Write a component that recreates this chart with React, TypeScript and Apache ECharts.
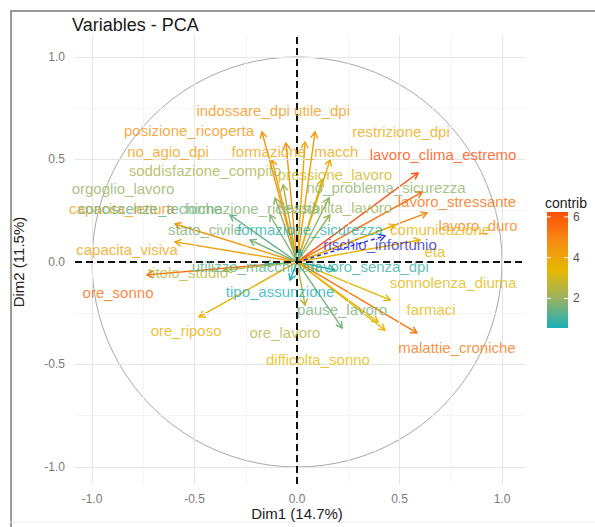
import React, { useEffect, useRef } from "react";
import * as echarts from "echarts";

// ---------- data ----------
const variables = [
  "indossare_dpi", "utile_dpi", "posizione_ricoperta", "restrizione_dpi", "no_agio_dpi",
  "formazione_macch", "lavoro_clima_estremo", "soddisfazione_compito", "pressione_lavoro",
  "no_problema_sicurezza", "orgoglio_lavoro", "capacita_lettura", "conoscenze_tecniche",
  "formazione_ricevuta", "flessibilita_lavoro", "lavoro_stressante", "lavoro_duro",
  "comunicazione", "stato_civile", "formazione_sicurezza", "eta", "capacita_visiva",
  "ore_sonno", "titolo_studio", "utilizzo_macchinari", "lavoro_senza_dpi",
  "sonnolenza_diurna", "tipo_assunzione", "farmaci", "pause_lavoro", "ore_riposo",
  "ore_lavoro", "malattie_croniche", "difficolta_sonno",
];
const dim1 = [
  -0.054, 0.088, -0.171, 0.161, -0.122, 0.039, 0.590, -0.068, 0.122, 0.156, -0.107,
  -0.595, -0.327, -0.132, 0.160, 0.610, 0.634, 0.478, -0.229, 0.015, 0.600, -0.595,
  -0.732, -0.350, -0.156, 0.185, 0.454, -0.034, 0.429, 0.220, -0.478, 0.039, 0.585, 0.395,
];
const dim2 = [
  0.580, 0.634, 0.634, 0.498, 0.498, 0.585, 0.434, 0.376, 0.400, 0.312, 0.312,
  0.185, 0.229, 0.229, 0.229, 0.341, 0.239, 0.180, 0.107, 0.060, 0.107, 0.098,
  -0.063, -0.040, -0.010, -0.039, -0.185, -0.088, -0.332, -0.322, -0.268, -0.210, -0.346, -0.293,
];
const contrib = [
  4.6, 4.3, 4.5, 3.9, 4.2, 4.0, 6.24, 2.3, 3.0, 1.9, 2.0,
  4.4, 1.4, 1.8, 2.1, 5.5, 5.0, 3.6, 1.7, 0.7, 3.6, 4.1,
  5.6, 2.6, 1.3, 0.9, 3.3, 0.55, 3.5, 1.6, 3.7, 2.5, 5.3, 3.4,
];
// where the (repelled) labels sit, in Dim1/Dim2 units
const labelDim1 = [
  -0.263, 0.122, -0.527, 0.507, -0.629, -0.010, 0.712, -0.449, 0.185, 0.434, -0.849,
  -0.854, -0.717, -0.220, 0.185, 0.780, 0.883, 0.698, -0.449, 0.063, 0.673, -0.829,
  -0.873, -0.532, -0.205, 0.356, 0.761, -0.083, 0.654, 0.220, -0.541, -0.059, 0.780, 0.102,
];
const labelDim2 = [
  0.741, 0.741, 0.639, 0.634, 0.537, 0.537, 0.522, 0.444, 0.429, 0.361, 0.356,
  0.259, 0.259, 0.259, 0.268, 0.293, 0.180, 0.156, 0.156, 0.156, 0.049, 0.059,
  -0.151, -0.049, -0.020, -0.020, -0.102, -0.146, -0.234, -0.234, -0.332, -0.346, -0.415, -0.478,
];
// supplementary variable
const supVariables = ["rischio_infortunio"];
const supDim1 = [0.429];
const supDim2 = [0.127];
const supLabelDim1 = [0.405];
const supLabelDim2 = [0.083];

const majorTicks = [-1, -0.5, 0, 0.5, 1];
const minorTicks = [-0.75, -0.25, 0.25, 0.75];
const contribTicks = [2, 4, 6];

// ---------- styles ----------
const FONT = "Liberation Sans, Arial, sans-serif";
const gradientStops: [number, string][] = [
  [0, "#1aafb8"],
  [0.25, "#96b264"],
  [0.5, "#e7b800"],
  [0.75, "#f58c14"],
  [1, "#fc4e07"],
];
const cMin = Math.min(...contrib);
const cMax = Math.max(...contrib);

function hexToRgb(h: string) {
  const n = parseInt(h.slice(1), 16);
  return [(n >> 16) & 255, (n >> 8) & 255, n & 255];
}
function colorOf(v: number) {
  const t = Math.max(0, Math.min(1, (v - cMin) / (cMax - cMin)));
  for (let i = 0; i < gradientStops.length - 1; i++) {
    const [t0, c0] = gradientStops[i];
    const [t1, c1] = gradientStops[i + 1];
    if (t <= t1) {
      const f = (t - t0) / (t1 - t0);
      const a = hexToRgb(c0), b = hexToRgb(c1);
      const r = a.map((x, k) => Math.round(x + (b[k] - x) * f));
      return `rgb(${r[0]},${r[1]},${r[2]})`;
    }
  }
  return gradientStops[gradientStops.length - 1][1];
}

const fmt = (v: number) => (v < 0 ? "-" : "") + Math.abs(v).toFixed(1);

const BAR = { x: 547, y: 212, w: 21, h: 116 };

export default function App() {
  const ref = useRef<HTMLDivElement>(null);
  useEffect(() => {
    if (!ref.current) return;
    const chart = echarts.init(ref.current, null, { renderer: "svg" });

    const arrowRender = (dashed: boolean, fixedColor?: string) => (params: any, api: any) => {
      const x = api.value(0), y = api.value(1), c = api.value(2);
      const o = api.coord([0, 0]);
      const p = api.coord([x, y]);
      const ang = Math.atan2(p[1] - o[1], p[0] - o[0]);
      const L = 7, a = Math.PI / 6;
      const h1 = [p[0] - L * Math.cos(ang - a), p[1] - L * Math.sin(ang - a)];
      const h2 = [p[0] - L * Math.cos(ang + a), p[1] - L * Math.sin(ang + a)];
      const col = fixedColor || colorOf(c);
      return {
        type: "group",
        children: [
          { type: "line", shape: { x1: o[0], y1: o[1], x2: p[0], y2: p[1] },
            style: { stroke: col, lineWidth: 1.4, lineDash: dashed ? [4, 3] : null } },
          { type: "polyline", shape: { points: [h1, p, h2] },
            style: { stroke: col, fill: "none", lineWidth: 1.4 } },
        ],
      };
    };

    const gridLines = [
      ...minorTicks.map((v) => ({ xAxis: v, lineStyle: { color: "#f2f2f2", width: 0.8, type: "solid" } })),
      ...minorTicks.map((v) => ({ yAxis: v, lineStyle: { color: "#f2f2f2", width: 0.8, type: "solid" } })),
      ...majorTicks.map((v) => ({ xAxis: v, lineStyle: { color: "#e6e6e6", width: 1.1, type: "solid" } })),
      ...majorTicks.map((v) => ({ yAxis: v, lineStyle: { color: "#e6e6e6", width: 1.1, type: "solid" } })),
    ];

    const colorStopsBar = gradientStops.map(([t, c]) => ({ offset: t, color: c }));
    const barY = (v: number) => BAR.y + BAR.h - ((v - cMin) / (cMax - cMin)) * BAR.h;

    const graphics: any[] = [
      { type: "line", shape: { x1: 10, y1: 11, x2: 595, y2: 11 }, style: { stroke: "#9a9a9a", lineWidth: 2 } },
      { type: "line", shape: { x1: 11, y1: 10, x2: 11, y2: 527 }, style: { stroke: "#9a9a9a", lineWidth: 2 } },
      { type: "line", shape: { x1: 10, y1: 522, x2: 595, y2: 522 }, style: { stroke: "#ececec", lineWidth: 1 } },
      { type: "text", x: 297, y: 513,
        style: { text: "Dim1 (14.7%)", font: `15px ${FONT}`, fill: "#222", textAlign: "center", textVerticalAlign: "middle" } },
      { type: "text", x: 18, y: 262, rotation: Math.PI / 2,
        style: { text: "Dim2 (11.5%)", font: `15px ${FONT}`, fill: "#222", textAlign: "center", textVerticalAlign: "middle" } },
      { type: "text", x: 545, y: 203,
        style: { text: "contrib", font: `14px ${FONT}`, fill: "#222", textAlign: "left", textVerticalAlign: "middle" } },
      { type: "rect", shape: { x: BAR.x, y: BAR.y, width: BAR.w, height: BAR.h },
        style: { fill: new echarts.graphic.LinearGradient(0, 1, 0, 0, colorStopsBar) } },
      ...contribTicks.flatMap((v) => [
        { type: "line", shape: { x1: BAR.x, y1: barY(v), x2: BAR.x + 4, y2: barY(v) }, style: { stroke: "#fff", lineWidth: 1 } },
        { type: "line", shape: { x1: BAR.x + BAR.w - 4, y1: barY(v), x2: BAR.x + BAR.w, y2: barY(v) }, style: { stroke: "#fff", lineWidth: 1 } },
        { type: "text", x: BAR.x + BAR.w + 5, y: barY(v),
          style: { text: String(v), font: `12px ${FONT}`, fill: "#555", textAlign: "left", textVerticalAlign: "middle" } },
      ]),
    ];

    chart.setOption({
      animation: false,
      backgroundColor: "#ffffff",
      title: {
        text: "Variables - PCA", left: 67, top: 11,
        textStyle: { fontFamily: FONT, fontSize: 18, fontWeight: "normal", color: "#1a1a1a" },
      },
      grid: { left: 75, right: 70, top: 35, bottom: 43, containLabel: false },
      xAxis: {
        type: "value", min: -1.083, max: 1.112,
        axisLine: { show: false },
        axisTick: { show: true, length: 5, customValues: majorTicks, lineStyle: { color: "#333", width: 1 } },
        axisLabel: { customValues: majorTicks, formatter: fmt, margin: 9, fontFamily: FONT, fontSize: 12, color: "#7a7a7a" },
        splitLine: { show: false },
      },
      yAxis: {
        type: "value", min: -1.083, max: 1.107,
        axisLine: { show: false },
        axisTick: { show: true, length: 5, customValues: majorTicks, lineStyle: { color: "#333", width: 1 } },
        axisLabel: { customValues: majorTicks, formatter: fmt, margin: 10, fontFamily: FONT, fontSize: 12, color: "#7a7a7a" },
        splitLine: { show: false },
      },
      graphic: graphics,
      series: [
        {
          type: "line", data: [[0, 0]], symbol: "none", lineStyle: { opacity: 0 }, silent: true, z: 1,
          markLine: { silent: true, symbol: ["none", "none"], label: { show: false }, data: gridLines },
        },
        {
          type: "custom", z: 2, silent: true, data: [[0, 0]],
          renderItem: (params: any, api: any) => {
            const o = api.coord([0, 0]);
            const r = api.size([1, 0])[0];
            return { type: "circle", shape: { cx: o[0], cy: o[1], r }, style: { fill: "none", stroke: "#a8a8a8", lineWidth: 1 } };
          },
        },
        {
          type: "custom", z: 3, silent: true,
          data: variables.map((_, i) => [dim1[i], dim2[i], contrib[i]]),
          renderItem: arrowRender(false),
        },
        {
          type: "custom", z: 3, silent: true,
          data: supVariables.map((_, i) => [supDim1[i], supDim2[i], 0]),
          renderItem: arrowRender(true, "#2b2bd6"),
        },
        {
          type: "line", data: [[0, 0]], symbol: "none", lineStyle: { opacity: 0 }, silent: true, z: 4,
          markLine: {
            silent: true, symbol: ["none", "none"], label: { show: false },
            lineStyle: { color: "#111", width: 2, type: [7, 4] },
            data: [{ xAxis: 0 }, { yAxis: 0 }],
          },
        },
        {
          type: "scatter", z: 5, silent: true, symbol: "circle", symbolSize: 1,
          itemStyle: { color: "transparent" },
          data: [
            ...variables.map((n, i) => ({
              name: n, value: [labelDim1[i], labelDim2[i]],
              label: { color: colorOf(contrib[i]) },
            })),
            ...supVariables.map((n, i) => ({
              name: n, value: [supLabelDim1[i], supLabelDim2[i]],
              label: { color: "#2b2bd6" },
            })),
          ],
          label: { show: true, position: "inside", formatter: "{b}", fontFamily: FONT, fontSize: 15 },
        },
      ],
    });
    return () => chart.dispose();
  }, []);
  return <div ref={ref} style={{ position: "absolute", left: 0, top: 0, width: 595, height: 527 }} />;
}
